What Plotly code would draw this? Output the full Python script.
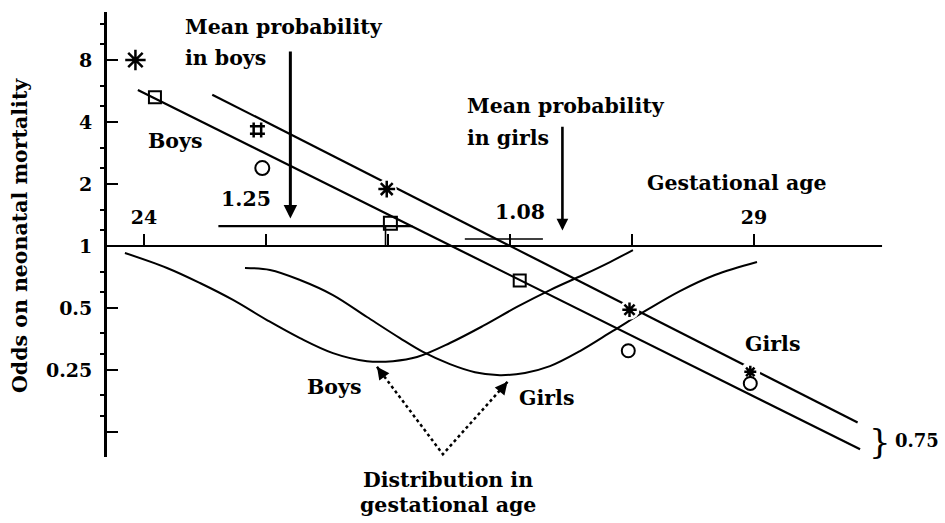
import math
import plotly.graph_objects as go

# ---- data -----------------------------------------------------------------
# Fitted odds lines (log scale) against gestational age, weeks
BOYS_LINE_AGES = [24.56, 29.85]
BOYS_LINE_ODDS = [5.43, 0.139]
GIRLS_LINE_AGES = [23.95, 29.87]
GIRLS_LINE_ODDS = [5.72, 0.103]

# Observed odds per week of gestation
BOYS_POINT_AGES = [23.93, 24.93, 25.99, 27.98, 28.97]
BOYS_POINT_ODDS = [8.0, 3.66, 1.89, 0.49, 0.245]
GIRLS_POINT_AGES = [24.09, 24.97, 26.02, 27.08, 27.97, 28.97]
GIRLS_POINT_ODDS = [5.28, 2.39, 1.29, 0.68, 0.31, 0.215]

# Distribution in gestational age (drawn hanging below the odds = 1 line)
BOYS_DIST_AGES = [23.844, 24.189, 24.459, 24.730, 25.008, 25.279, 25.549, 25.828,
                  26.041, 26.238, 26.508, 26.779, 27.057, 27.328, 27.598, 27.820, 28.008]
BOYS_DIST_ODDS = [0.925, 0.782, 0.661, 0.547, 0.437, 0.357, 0.302, 0.276,
                  0.276, 0.289, 0.338, 0.409, 0.506, 0.611, 0.723, 0.836, 0.956]
GIRLS_DIST_AGES = [24.828, 25.033, 25.279, 25.549, 25.828, 26.098, 26.287, 26.508,
                   26.713, 26.918, 27.123, 27.328, 27.574, 27.844, 28.123, 28.393,
                   28.680, 29.025]
GIRLS_DIST_ODDS = [0.782, 0.765, 0.684, 0.578, 0.452, 0.357, 0.306, 0.267,
                   0.244, 0.236, 0.242, 0.261, 0.309, 0.387, 0.489, 0.604,
                   0.723, 0.836]

# Mean probabilities and the boys/girls odds ratio
MEAN_BOYS = 1.25
MEAN_GIRLS = 1.08
ODDS_RATIO = 0.75
MEAN_BOYS_SPAN = [24.61, 26.20]
MEAN_GIRLS_SPAN = [26.63, 27.27]
MEAN_BOYS_AGE = 25.20
MEAN_GIRLS_AGE = 27.43
MEAN_BOYS_DROP_AGE = 25.98

BASELINE_AGES = [23.70, 30.05]

AGE_TICKS = [24, 25, 26, 27, 28, 29]
AGE_TICK_TEXT = ["24", "", "", "", "", "29"]
ODDS_TICKS = [0.125, 0.25, 0.5, 1, 2, 4, 8]
ODDS_TICK_TEXT = ["", "0.25", "0.5", "1", "2", "4", "8"]
ODDS_MINOR = [0.15, 0.19, 0.3, 0.38, 0.6, 0.75, 1.2, 1.5, 2.4, 3, 4.8, 6, 9.6, 12]

# ---- layout geometry ----------------------------------------------------------
W, H = 945, 523
ML, MR, MT, MB = 107, 0, 12, 66
X_RANGE = [23.697, 30.566]
Y_RANGE = [-1.0245, 1.1361]          # log10 odds

FONT = "DejaVu Serif"
BLACK = "#000000"
TEXT_SIZE = 20.5


def px(x):
    return (x - ML) / (W - ML - MR)


def py(y):
    return (H - MB - y) / (H - MT - MB)


def lg(v):
    return math.log10(v)


fig = go.Figure()


def line(xs, ys, width=2.0, dash="solid", shape="linear"):
    fig.add_trace(go.Scatter(x=xs, y=ys, mode="lines", hoverinfo="skip",
                             line=dict(color=BLACK, width=width, dash=dash, shape=shape),
                             showlegend=False))


# odds = 1 baseline
line(BASELINE_AGES, [1, 1], width=2.2)

# distribution curves
line(BOYS_DIST_AGES, BOYS_DIST_ODDS, width=2.0, shape="spline")
line(GIRLS_DIST_AGES, GIRLS_DIST_ODDS, width=2.0, shape="spline")

# odds lines
line(BOYS_LINE_AGES, BOYS_LINE_ODDS, width=2.2)
line(GIRLS_LINE_AGES, GIRLS_LINE_ODDS, width=2.2)

# mean probability levels
line(MEAN_BOYS_SPAN, [MEAN_BOYS, MEAN_BOYS], width=2.2)
line([MEAN_BOYS_DROP_AGE, MEAN_BOYS_DROP_AGE], [MEAN_BOYS, 1], width=1.6)
line(MEAN_GIRLS_SPAN, [MEAN_GIRLS, MEAN_GIRLS], width=1.5)

# gaps in the boys line around its markers
fig.add_trace(go.Scatter(x=BOYS_POINT_AGES, y=BOYS_POINT_ODDS, mode="markers",
                         hoverinfo="skip", showlegend=False,
                         marker=dict(symbol="circle", size=20, color="white",
                                     opacity=1, line=dict(width=0))))

fig.add_trace(go.Scatter(
    x=BOYS_POINT_AGES, y=BOYS_POINT_ODDS, mode="markers", hoverinfo="skip",
    showlegend=False,
    marker=dict(symbol=["asterisk-open", "hash-open", "asterisk-open",
                        "asterisk-open", "asterisk-open"],
                size=[17, 15, 14, 12, 10], color=BLACK, opacity=1,
                line=dict(color=BLACK, width=2.5))))

fig.add_trace(go.Scatter(
    x=GIRLS_POINT_AGES, y=GIRLS_POINT_ODDS, mode="markers", hoverinfo="skip",
    showlegend=False,
    marker=dict(symbol=["square-open", "circle-open", "square-open",
                        "square-open", "circle-open", "circle-open"],
                size=[12, 14, 13, 12, 13, 13], color=BLACK, opacity=1,
                line=dict(color=BLACK, width=2))))

# dotted pointers from the distribution label
DIST_VERTEX = (26.45, 0.0975)
DIST_BOYS_HEAD = (25.91, 0.259)
DIST_GIRLS_HEAD = (26.98, 0.219)
line([DIST_BOYS_HEAD[0], DIST_VERTEX[0], DIST_GIRLS_HEAD[0]],
     [DIST_BOYS_HEAD[1], DIST_VERTEX[1], DIST_GIRLS_HEAD[1]], width=2.5, dash="dot")

annotations = []


def text(s, x, y, xanchor="center", size=TEXT_SIZE, angle=0, weight="bold"):
    annotations.append(dict(text=s, x=px(x), y=py(y), xref="paper", yref="paper",
                            xanchor=xanchor, yanchor="middle", showarrow=False,
                            textangle=angle,
                            font=dict(family=FONT, size=size, color=BLACK, weight=weight)))


def arrow(x_tip, y_tip, x_tail, y_tail, width=3):
    annotations.append(dict(text="", x=x_tip, y=lg(y_tip), ax=x_tail, ay=lg(y_tail),
                            xref="x", yref="y", axref="x", ayref="y",
                            showarrow=True, arrowhead=2, arrowsize=0.9,
                            arrowwidth=width, arrowcolor=BLACK))


def head(x_tip, y_tip, dx, dy):
    annotations.append(dict(text="", x=x_tip, y=lg(y_tip), ax=dx, ay=dy,
                            xref="x", yref="y", showarrow=True, arrowhead=2,
                            arrowsize=1.0, arrowwidth=2.5, arrowcolor=BLACK))


arrow(MEAN_BOYS_AGE, 1.36, MEAN_BOYS_AGE, 8.95, width=3)
arrow(MEAN_GIRLS_AGE, 1.19, MEAN_GIRLS_AGE, 3.86, width=2.6)
head(*DIST_BOYS_HEAD, 8, 11)
head(*DIST_GIRLS_HEAD, -9, 11)

text("Mean probability", 183, 27, xanchor="left")
text("in boys", 183, 58, xanchor="left")
text("Boys", 175, 141)
text(f"{MEAN_BOYS:.2f}", 246, 199)
text("Mean probability", 465, 106, xanchor="left")
text("in girls", 465, 138, xanchor="left")
text(f"{MEAN_GIRLS:.2f}", 520, 212)
text("Gestational age", 737, 183)
text("Girls", 772, 344)
text("}", 880, 441, size=34, weight="normal")
text(f"{ODDS_RATIO:.2f}", 893, 440, xanchor="left", size=18)
text("Boys", 334, 387)
text("Girls", 546, 398)
text("Distribution in", 448, 480)
text("gestational age", 448, 505)
text("Odds on neonatal mortality", 20, 236, angle=-90)

axis_pos = (0 - Y_RANGE[0]) / (Y_RANGE[1] - Y_RANGE[0])

fig.update_layout(
    width=W, height=H,
    margin=dict(l=ML, r=MR, t=MT, b=MB, pad=0),
    paper_bgcolor="white", plot_bgcolor="white",
    showlegend=False,
    annotations=annotations,
    xaxis=dict(range=X_RANGE, showgrid=False, zeroline=False, showline=False,
               anchor="free", position=axis_pos, side="top",
               tickmode="array", tickvals=AGE_TICKS, ticktext=AGE_TICK_TEXT,
               ticks="outside", ticklen=12, tickwidth=2, tickcolor=BLACK,
               ticklabelstandoff=2,
               tickfont=dict(family=FONT, size=19, color=BLACK, weight="bold")),
    yaxis=dict(type="log", range=Y_RANGE, showgrid=False, zeroline=False,
               showline=True, linewidth=3, linecolor=BLACK,
               tickmode="array", tickvals=ODDS_TICKS, ticktext=ODDS_TICK_TEXT,
               ticks="inside", ticklen=11, tickwidth=2, tickcolor=BLACK,
               ticklabelstandoff=8,
               minor=dict(tickvals=ODDS_MINOR, ticks="outside", ticklen=4,
                          tickwidth=1.5, tickcolor=BLACK),
               tickfont=dict(family=FONT, size=19, color=BLACK, weight="bold")),
)

fig.write_html("out.html")
